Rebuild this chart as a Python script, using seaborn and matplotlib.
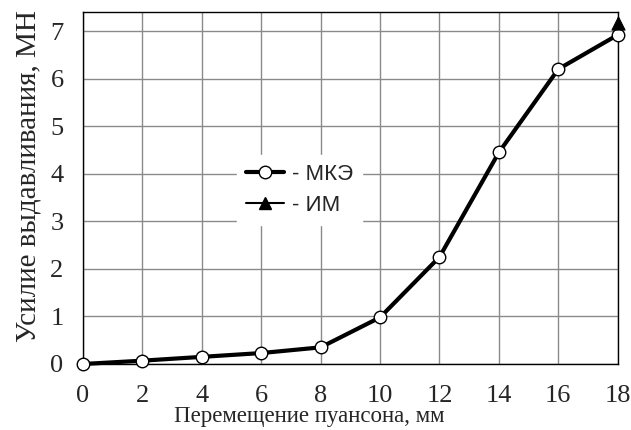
import pandas as pd
import seaborn as sns
import matplotlib.pyplot as plt
from matplotlib.lines import Line2D

# перемещение пуансона, мм
peremeshchenie = [0, 2, 4, 6, 8, 10, 12, 14, 16, 18]
# усилие по МКЭ, МН
usilie_mke = [0.0, 0.07, 0.15, 0.23, 0.35, 0.98, 2.25, 4.45, 6.2, 6.92]
# эксперимент (ИМ)
peremeshchenie_im = [18]
usilie_im = [7.17]

df = pd.DataFrame({'x': peremeshchenie, 'y': usilie_mke})
df_im = pd.DataFrame({'x': peremeshchenie_im, 'y': usilie_im})

sns.set_style('white')
plt.rcParams['font.family'] = ['Liberation Serif', 'DejaVu Serif']

fig = plt.figure(figsize=(6.31, 4.30), dpi=100)
ax = fig.add_axes([0.1315, 0.1535, 0.979 - 0.1315, 0.972 - 0.1535])

sns.lineplot(data=df, x='x', y='y', ax=ax, color='black', linewidth=3,
             marker='o', markersize=9, markerfacecolor='white',
             markeredgecolor='black', markeredgewidth=1.0,
             clip_on=False, zorder=5, legend=False)
sns.scatterplot(data=df_im, x='x', y='y', ax=ax, color='black', marker='^',
                s=90, edgecolor='black', clip_on=False, zorder=6, legend=False)

ax.set_xlim(0, 18)
ax.set_ylim(0, 7.4)
ax.set_xticks(range(0, 19, 2))
ax.set_yticks(range(0, 8))
ax.grid(True, color='#8a8a8a', linewidth=1.0)
ax.set_axisbelow(True)
for s in ax.spines.values():
    s.set_color('black')
    s.set_linewidth(1.0)

ax.tick_params(axis='y', length=6, width=1, color='#8a8a8a', labelsize=19, pad=8)
ax.tick_params(axis='x', length=0, labelsize=19, pad=15)

ax.set_xlabel('Перемещение пуансона, мм', fontsize=16.5)
ax.xaxis.set_label_coords(0.4224, -0.12, transform=ax.transAxes)
ax.set_ylabel('Усилие выдавливания, МН', fontsize=21, labelpad=6)
ax.yaxis.label.set_y(0.533)

# легенда
h1 = Line2D([], [], color='black', linewidth=3, marker='o', markersize=9,
            markerfacecolor='white', markeredgecolor='black')
h2 = Line2D([], [], color='black', linewidth=1.5, marker='^', markersize=9,
            markerfacecolor='black', markeredgecolor='black')
leg = ax.legend([h1, h2], ['- МКЭ', '- ИМ'], loc='center left',
                bbox_to_anchor=(0.268, 0.494), frameon=True, fancybox=False,
                framealpha=1, edgecolor='white', handlelength=1.7,
                handletextpad=0.35, labelspacing=0.45,
                prop={'family': 'Liberation Sans', 'size': 16})

plt.savefig('out.png', dpi=100)
